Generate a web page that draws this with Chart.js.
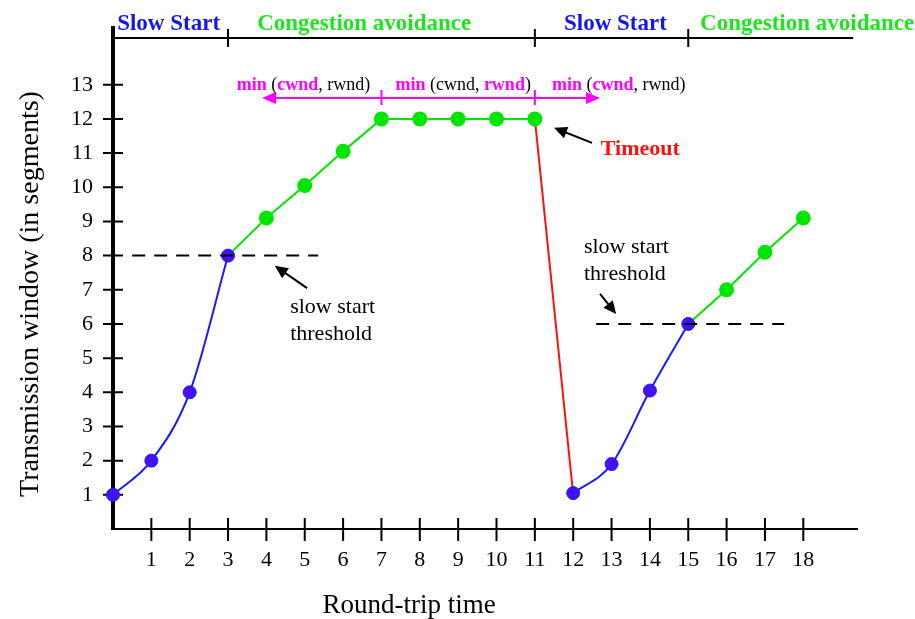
<!DOCTYPE html>
<html>
<head>
<meta charset="utf-8">
<script src="https://cdn.jsdelivr.net/npm/chart.js@4.4.1/dist/chart.umd.min.js"></script>
<style>
  html, body { margin: 0; padding: 0; background: #fff; }
  canvas { display: block; }
</style>
</head>
<body>
<canvas id="cwnd-chart" width="915" height="619"></canvas>
<script>
// round-trip time (x) and congestion window (y) for each phase
const slowStartX1 = [0, 1, 2, 3];
const slowStartY1 = [1, 2, 4, 8];
const avoidanceX1 = [3, 4, 5, 6, 7, 8, 9, 10, 11];
const avoidanceY1 = [8, 9.1, 10.05, 11.05, 12, 12, 12, 12, 12];
const timeoutX = [11, 12];
const timeoutY = [12, 1];
const slowStartX2 = [12, 13, 14, 15];
const slowStartY2 = [1.05, 1.9, 4.05, 6];
const avoidanceX2 = [15, 16, 17, 18];
const avoidanceY2 = [6, 7, 8.1, 9.1];

// slow start thresholds (dashed)
const thresholdX1 = [0.5, 5.35];
const thresholdY1 = [8, 8];
const thresholdX2 = [12.6, 17.5];
const thresholdY2 = [6, 6];

// axis ticks
const xTicks = [1, 2, 3, 4, 5, 6, 7, 8, 9, 10, 11, 12, 13, 14, 15, 16, 17, 18];
const yTicks = [1, 2, 3, 4, 5, 6, 7, 8, 9, 10, 11, 12, 13];

// phase band on top
const phaseBreaks = [3, 11, 15];
const phaseLabels = ['Slow Start', 'Congestion avoidance', 'Slow Start', 'Congestion avoidance'];
const phaseCentres = [1.45, 6.55, 13.1, 18.1];

// min(cwnd, rwnd) arrow
const minBreaks = [7, 11];
const minCentres = [4.97, 9.13, 13.19];

const BLUE = '#1a1aff';
const BLUE_FILL = '#4510f5';
const GREEN = '#00e600';
const RED = '#ff1010';
const MAGENTA = '#ff00ff';
const SERIF = '"Liberation Serif", "Times New Roman", serif';

function pts(xs, ys) {
  return xs.map((x, i) => ({ x: x, y: ys[i] }));
}

// extra drawing: crossing tick marks, phase band, labels, arrows
const decorations = {
  id: 'decorations',
  beforeDatasetsDraw(chart) {
    const ctx = chart.ctx;
    const X = v => chart.scales.x.getPixelForValue(v);
    const Y = v => chart.scales.y.getPixelForValue(v);
    ctx.save();
    ctx.strokeStyle = '#000';
    ctx.lineWidth = 2;
    ctx.beginPath();
    yTicks.forEach(v => { ctx.moveTo(X(0) - 10, Y(v)); ctx.lineTo(X(0) + 10, Y(v)); });
    xTicks.forEach(v => { ctx.moveTo(X(v), Y(0) - 11); ctx.lineTo(X(v), Y(0) + 12); });
    ctx.stroke();

    // phase band line
    const hy = Y(14.37);
    ctx.beginPath();
    ctx.moveTo(X(0), hy);
    ctx.lineTo(X(19.3), hy);
    phaseBreaks.forEach(v => { ctx.moveTo(X(v), hy - 9); ctx.lineTo(X(v), hy + 9); });
    ctx.stroke();

    // magenta min(cwnd, rwnd) arrow
    const my = Y(12.61);
    ctx.strokeStyle = MAGENTA;
    ctx.fillStyle = MAGENTA;
    ctx.lineWidth = 2;
    ctx.beginPath();
    ctx.moveTo(X(3.885) + 10, my);
    ctx.lineTo(X(12.7) - 10, my);
    minBreaks.forEach(v => { ctx.moveTo(X(v), my - 8); ctx.lineTo(X(v), my + 7); });
    ctx.stroke();
    head(ctx, X(3.885), my, -1, 0, 14, 6);
    head(ctx, X(12.7), my, 1, 0, 14, 6);
    ctx.restore();
  },
  afterDraw(chart) {
    const ctx = chart.ctx;
    const X = v => chart.scales.x.getPixelForValue(v);
    const Y = v => chart.scales.y.getPixelForValue(v);
    ctx.save();

    // phase labels
    ctx.font = 'bold 23px ' + SERIF;
    ctx.textAlign = 'center';
    ctx.textBaseline = 'alphabetic';
    phaseLabels.forEach((t, i) => {
      ctx.fillStyle = i % 2 === 0 ? '#1616e8' : '#1ee61e';
      ctx.fillText(t, X(phaseCentres[i]), Y(14.37) - 8);
    });

    // min(cwnd, rwnd) labels
    const my = Y(12.61) - 8;
    const boldCwnd = [['min', true, MAGENTA], [' (', false, '#000'], ['cwnd', true, MAGENTA], [', rwnd)', false, '#000']];
    const boldRwnd = [['min', true, MAGENTA], [' (cwnd, ', false, '#000'], ['rwnd', true, MAGENTA], [')', false, '#000']];
    rich(ctx, boldCwnd, X(minCentres[0]), my);
    rich(ctx, boldRwnd, X(minCentres[1]), my);
    rich(ctx, boldCwnd, X(minCentres[2]), my);

    // Timeout
    ctx.textAlign = 'left';
    ctx.fillStyle = RED;
    ctx.font = 'bold 22px ' + SERIF;
    ctx.fillText('Timeout', X(12.72), Y(10.95));
    arrow(ctx, X(12.49), Y(11.3), X(11.5), Y(11.74));

    // slow start threshold notes
    ctx.fillStyle = '#000';
    ctx.font = '22px ' + SERIF;
    ctx.fillText('slow start', X(4.62), Y(6.32));
    ctx.fillText('threshold', X(4.62), Y(5.53));
    arrow(ctx, X(5.06), Y(7.05), X(4.22), Y(7.7));
    ctx.fillText('slow start', X(12.28), Y(8.08));
    ctx.fillText('threshold', X(12.28), Y(7.29));
    arrow(ctx, X(12.7), Y(6.88), X(13.12), Y(6.29));

    // axis titles
    ctx.fillStyle = '#000';
    ctx.font = '27px ' + SERIF;
    ctx.textAlign = 'center';
    ctx.fillText('Round-trip time', 409, 613);
    ctx.translate(38, 294);
    ctx.rotate(-Math.PI / 2);
    ctx.font = '28px ' + SERIF;
    ctx.fillText('Transmission window (in segments)', 0, 0);
    ctx.restore();
  }
};

function head(ctx, x, y, dx, dy, len, half) {
  const bx = x - dx * len, by = y - dy * len;
  ctx.beginPath();
  ctx.moveTo(x, y);
  ctx.lineTo(bx - dy * half, by + dx * half);
  ctx.lineTo(bx + dy * half, by - dx * half);
  ctx.closePath();
  ctx.fill();
}

function arrow(ctx, x1, y1, x2, y2) {
  const d = Math.hypot(x2 - x1, y2 - y1);
  const dx = (x2 - x1) / d, dy = (y2 - y1) / d;
  ctx.save();
  ctx.strokeStyle = '#000';
  ctx.fillStyle = '#000';
  ctx.lineWidth = 2;
  ctx.beginPath();
  ctx.moveTo(x1, y1);
  ctx.lineTo(x2 - dx * 8, y2 - dy * 8);
  ctx.stroke();
  head(ctx, x2, y2, dx, dy, 13, 6);
  ctx.restore();
}

function rich(ctx, parts, cx, y) {
  let total = 0;
  parts.forEach(p => {
    ctx.font = (p[1] ? 'bold ' : '') + '18px ' + SERIF;
    total += ctx.measureText(p[0]).width;
  });
  let x = cx - total / 2;
  ctx.textAlign = 'left';
  parts.forEach(p => {
    ctx.font = (p[1] ? 'bold ' : '') + '18px ' + SERIF;
    ctx.fillStyle = p[2];
    ctx.fillText(p[0], x, y);
    x += ctx.measureText(p[0]).width;
  });
}

const ctx = document.getElementById('cwnd-chart').getContext('2d');
new Chart(ctx, {
  type: 'line',
  data: {
    datasets: [
      {
        label: 'threshold 1',
        data: pts(thresholdX1, thresholdY1),
        borderColor: '#000',
        borderWidth: 2,
        borderDash: [13, 9],
        pointRadius: 0,
        order: 0
      },
      {
        label: 'threshold 2',
        data: pts(thresholdX2, thresholdY2),
        borderColor: '#000',
        borderWidth: 2,
        borderDash: [13, 9],
        pointRadius: 0,
        order: 0
      },
      {
        label: 'slow start 1',
        data: pts(slowStartX1, slowStartY1),
        borderColor: BLUE,
        borderWidth: 2,
        cubicInterpolationMode: 'monotone',
        pointRadius: 6.5,
        pointBackgroundColor: BLUE_FILL,
        pointBorderColor: BLUE,
        pointBorderWidth: 1,
        order: 1
      },
      {
        label: 'slow start 2',
        data: pts(slowStartX2, slowStartY2),
        borderColor: BLUE,
        borderWidth: 2,
        cubicInterpolationMode: 'monotone',
        pointRadius: 6.5,
        pointBackgroundColor: BLUE_FILL,
        pointBorderColor: BLUE,
        pointBorderWidth: 1,
        order: 1
      },
      {
        label: 'congestion avoidance 1',
        data: pts(avoidanceX1, avoidanceY1),
        borderColor: GREEN,
        borderWidth: 2,
        pointRadius: c => c.dataIndex === 0 ? 0 : 6.5,
        pointBackgroundColor: GREEN,
        pointBorderColor: GREEN,
        order: 2
      },
      {
        label: 'congestion avoidance 2',
        data: pts(avoidanceX2, avoidanceY2),
        borderColor: GREEN,
        borderWidth: 2,
        pointRadius: c => c.dataIndex === 0 ? 0 : 6.5,
        pointBackgroundColor: GREEN,
        pointBorderColor: GREEN,
        order: 2
      },
      {
        label: 'timeout',
        data: pts(timeoutX, timeoutY),
        borderColor: RED,
        borderWidth: 2,
        pointRadius: 0,
        order: 3
      }
    ]
  },
  options: {
    responsive: false,
    animation: false,
    datasets: {
      line: { clip: false }
    },
    layout: {
      padding: { top: 28, right: 58, left: 0, bottom: 0 }
    },
    plugins: {
      legend: { display: false },
      tooltip: { enabled: false }
    },
    scales: {
      x: {
        type: 'linear',
        position: 'bottom',
        min: 0,
        max: 19.4,
        afterFit: scale => { scale.height = 90; },
        afterBuildTicks: axis => { axis.ticks = xTicks.map(v => ({ value: v })); },
        grid: { display: false, drawTicks: false },
        border: { display: true, color: '#000', width: 2 },
        ticks: {
          autoSkip: false,
          maxRotation: 0,
          padding: 18,
          color: '#000',
          font: { family: SERIF, size: 22 }
        }
      },
      y: {
        type: 'linear',
        position: 'left',
        min: 0,
        max: 14.66,
        // fixed width, and no extra top padding for the labels
        afterFit: scale => { scale.width = 113; scale.paddingTop = 0; },
        afterBuildTicks: axis => { axis.ticks = yTicks.map(v => ({ value: v })); },
        grid: { display: false, drawTicks: false },
        border: { display: true, color: '#000', width: 4 },
        ticks: {
          autoSkip: false,
          padding: 20,
          color: '#000',
          font: { family: SERIF, size: 22 }
        }
      }
    }
  },
  plugins: [decorations]
});
</script>
</body>
</html>
